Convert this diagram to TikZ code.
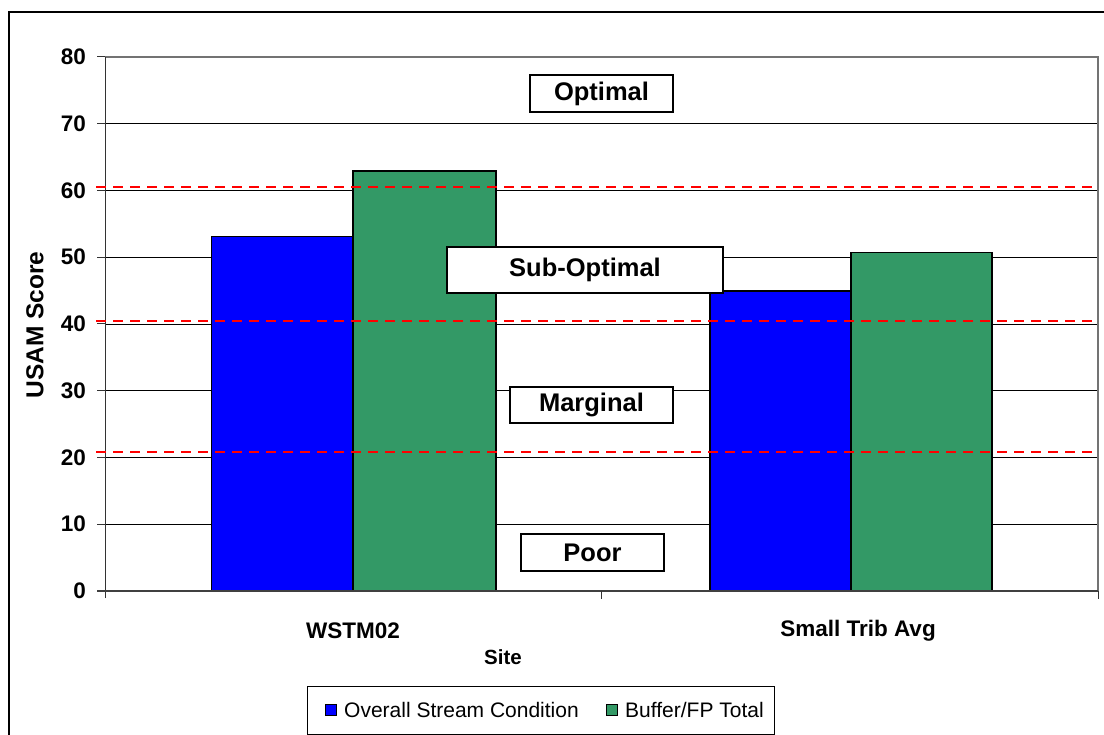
\documentclass[tikz,border=0pt]{standalone}
\usepackage{fontspec}
\setmainfont{Liberation Sans}
\definecolor{seriesA}{RGB}{0,0,255}
\definecolor{seriesB}{RGB}{51,153,102}
\begin{document}
\begin{tikzpicture}[x=1pt,y=-1pt,
  gridline/.style={black, line width=0.9pt},
  barbox/.style={draw=black, line width=1.8pt},
  band/.style={red, dash pattern=on 10pt off 7pt, line width=2pt},
  zone/.style={draw=black, line width=1.6pt, fill=white, inner sep=0pt,
    font=\bfseries\fontsize{25.5}{30}\selectfont},
  ticklabel/.style={font=\bfseries\fontsize{22.5}{27}\selectfont, inner sep=0pt},
  axistitle/.style={font=\bfseries\fontsize{20.5}{24}\selectfont, inner sep=0pt},
  legendtext/.style={font=\fontsize{21}{25}\selectfont, inner sep=0pt, anchor=base west},
  legendkey/.style={draw=black, line width=0.8pt, minimum size=11pt, inner sep=0pt},
]
\useasboundingbox (0,0) rectangle (1104,735);
\fill[white] (0,0) rectangle (1104,735);

% chart frame
\draw[line width=1.3pt] (9,760) -- (9,12) -- (1106,12);

% horizontal gridlines
\foreach \v in {1,...,7}
  \draw[gridline] (105,{591-66.75*\v}) -- (1098,{591-66.75*\v});
% plot area border (top and right)
\draw[black!55, line width=1.2pt] (105,57) -- (1098,57) -- (1098,591);

% bars: WSTM02
\path[barbox, fill=seriesA] (211.5,591) rectangle (353,{591-6.675*53.1});
\path[barbox, fill=seriesB] (353,591) rectangle (496,{591-6.675*62.9});
% bars: Small Trib Avg
\path[barbox, fill=seriesA] (710,591) rectangle (851,{591-6.675*44.9});
\path[barbox, fill=seriesB] (851,591) rectangle (992,{591-6.675*50.7});

% axes and tick marks
\draw[black!80, line width=1pt] (105,598) -- (105,57);
\draw[black!75, line width=1.4pt] (97,591) -- (1098,591);
\foreach \v in {1,...,8}
  \draw[black!80, line width=1pt] (97,{591-66.75*\v}) -- (105,{591-66.75*\v});
\foreach \x in {601,1098}
  \draw[black!80, line width=1pt] (\x,591) -- (\x,599);

% class limits
\draw[band] (96,186.7) -- (1098,186.7);
\draw[band] (96,321) -- (1098,321);
\draw[band] (96,452.3) -- (1098,452.3);

% tick labels
\foreach \v [evaluate=\v as \l using int(10*\v)] in {0,...,8}
  \node[ticklabel, anchor=east] (tick\v) at (86,{591-66.75*\v}) {\l};

% category labels and axis titles
\node[ticklabel] (catA) at (353,631) {WSTM02};
\node[ticklabel] (catB) at (858,631) {Small Trib Avg};
\node[axistitle] (xtitle) at (503,657) {Site};
\node[axistitle, rotate=90, font=\bfseries\fontsize{24.5}{29}\selectfont] (ytitle) at (35,325) {USAM Score};

% condition class labels
\node[zone, minimum width=143pt, minimum height=37pt] (optimal) at (601.5,93.5) {Optimal};
\node[zone, minimum width=276pt, minimum height=46pt] (suboptimal) at (585,270) {Sub-Optimal};
\node[zone, minimum width=163pt, minimum height=36pt] (marginal) at (591.5,405) {Marginal};
\node[zone, minimum width=143pt, minimum height=37pt] (poor) at (592.5,552.5) {Poor};

% legend
\node[draw=black, line width=1pt, minimum width=467pt, minimum height=48pt, inner sep=0pt] (legend) at (540.5,710) {};
\node[legendkey, fill=seriesA] (keyA) at (330.5,710) {};
\node[legendtext] (labA) at (344,717) {Overall Stream Condition};
\node[legendkey, fill=seriesB] (keyB) at (611.5,710) {};
\node[legendtext] (labB) at (625,717) {Buffer/FP Total};
\end{tikzpicture}
\end{document}
